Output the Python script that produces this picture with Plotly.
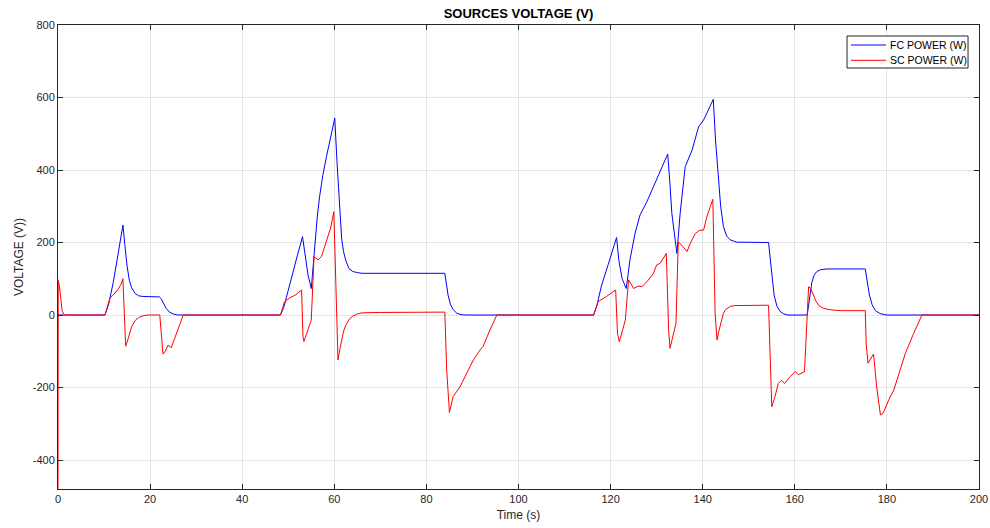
import plotly.graph_objects as go

# FC power (blue) samples
fc_t = [0, 10.2, 11, 12, 13, 14.1, 14.5, 15.0, 15.5, 16, 16.7, 17.5, 18.5, 22,
        22.4, 22.9, 23.5, 24.2, 25, 26,
        48.3, 49, 50, 51, 52, 53.1, 53.6, 54.3, 55.0, 55.4, 55.8, 56.3, 56.8, 57.5, 58.3, 59.2, 60.1,
        60.6, 61.2, 61.6, 62.0, 62.5, 63.2, 64, 65, 66, 84.0, 84.3, 84.7, 85.2, 85.8, 86.6,
        87.5, 88.5,
        116.3, 117, 118, 119.5, 121.3, 121.8, 122.5, 123.4, 124.2, 125.3, 126.4, 127.9,
        129.3, 130.8, 132.4, 132.9, 133.3, 134.4, 135.1, 136.2, 137.7, 139.1, 140.2,
        141.2, 142.3, 142.8, 143.4, 143.9, 144.5, 145.2, 146.0, 147.4, 154.3, 154.6, 155.0,
        155.5, 156.1, 156.8, 157.6, 158.5, 162.7, 163.2, 163.7, 164.2, 164.8, 165.6, 167.0,
        175.3, 175.7, 176.2, 176.8, 177.5, 178.5, 180, 200]
fc_v = [0, 0, 30, 90, 165, 248, 195, 135, 95, 75, 60, 53, 51, 50,
        45, 32, 18, 8, 3, 0,
        0, 20, 70, 120, 165, 216, 170, 110, 73, 140, 207, 270, 326, 385, 437, 490, 543,
        420, 271, 210, 175, 150, 128, 120, 117, 115, 115, 90, 55, 30, 15, 5,
        1, 0,
        0, 25, 80, 140, 214, 150, 100, 73, 152, 225, 276, 313,
        354, 400, 444, 360, 280, 170, 280, 409, 455, 519, 538,
        565, 595, 480, 372, 300, 244, 218, 207, 201, 200, 165, 100,
        55, 25, 10, 3, 0, 0, 45, 90, 110, 120, 125, 127,
        127, 95, 55, 28, 12, 4, 0, 0]

# SC power (red) samples
sc_t = [0, 0.05, 0.3, 0.6, 0.9, 1.2, 1.6, 10.2, 10.8, 11.3, 12, 13, 13.7, 14.1, 14.35, 14.7,
        15.0, 15.5, 16, 16.7, 17.5, 18.5, 19.5, 22.1, 22.5, 22.8, 23.3, 23.9, 24.6, 25.5,
        26.3, 27.2,
        48.3, 49.2, 50.3, 51.5, 52.9, 53.2, 53.4, 54, 54.7, 55.0, 55.6, 56.5, 57.2, 58.3,
        59.2, 59.9, 60.3, 60.8, 61.2, 61.6, 62.0, 62.5, 63.2, 64, 65, 66, 70, 84.0, 84.4,
        85.0, 85.8, 87.3, 88.7, 90.2, 91.6, 92.3, 93.8, 95.3,
        116.3, 117.3, 119.1, 121.1, 121.5, 121.9, 123.2, 123.9, 125.0, 126.0, 126.8,
        127.9, 129.3, 130.0, 130.8, 132.1, 132.6, 132.9, 134.2, 134.7, 135.4, 136.6,
        137.3, 138.4, 139.4, 140.2, 140.9, 142.2, 142.7, 143.1, 143.5, 144, 144.5, 145,
        146, 147, 154.3, 155.0, 155.7, 156.4, 157.1, 157.8, 159.0, 160.1, 160.8, 162.1,
        163.0, 163.5, 164, 164.6, 165.3, 166.3, 168, 170, 175.3, 175.5, 175.9, 177.1,
        177.8, 178.6, 179.2, 180.4, 181.5, 182.6, 184.0, 185.8, 187.6, 200]
sc_v = [-480, 95, 80, 40, 12, 3, 0, 0, 30, 48, 55, 70, 85, 100, 20, -86,
        -75, -50, -32, -16, -7, -2, 0, 0, -60, -108, -100, -83, -90, -60,
        -30, 0,
        0, 37, 47, 55, 69, -60, -73, -50, -22, -14, 161, 152, 161, 207,
        240, 285, 80, -124, -95, -65, -45, -28, -12, -3, 3, 6, 7, 8, -150,
        -269, -225, -198, -161, -124, -97, -87, -41, 0,
        0, 37, 51, 69, -51, -74, -14, 97, 73, 80, 78,
        92, 115, 138, 143, 170, -41, -92, -23, 202, 193, 175,
        198, 225, 234, 234, 271, 319, 5, -69, -45, -15, 5, 15,
        24, 26, 27, -253, -225, -189, -180, -189, -170, -156, -165, -156,
        78, 72, 55, 38, 25, 18, 14, 12, 12, -80, -133, -108,
        -200, -276, -270, -234, -207, -161, -106, -51, 0, 0]

series_names = ["FC POWER (W)", "SC POWER (W)"]
series_colors = ["#0000ff", "#ff0000"]

x_ticks = [0, 20, 40, 60, 80, 100, 120, 140, 160, 180, 200]
y_ticks = [-400, -200, 0, 200, 400, 600, 800]
y_tick_text = ["-400", "-200", "0", "200", "400", "600", "800"]

FONT = "Liberation Sans, Arial, Helvetica, sans-serif"
AX = "#262626"
GRID = "#e3e3e3"

fig = go.Figure()
for t, v, n, c in [(fc_t, fc_v, series_names[0], series_colors[0]),
                   (sc_t, sc_v, series_names[1], series_colors[1])]:
    fig.add_trace(go.Scatter(x=t, y=v, mode="lines", name=n,
                             line=dict(color=c, width=1), showlegend=False))

axis_common = dict(showline=True, linecolor=AX, linewidth=1, mirror="ticks",
                   ticks="inside", ticklen=5, tickcolor=AX, tickwidth=1,
                   showgrid=True, gridcolor=GRID, gridwidth=1, zeroline=False,
                   automargin=False,
                   tickfont=dict(family=FONT, size=11, color=AX))

fig.update_layout(
    width=990, height=528,
    margin=dict(l=58, r=11, t=25, b=39),
    paper_bgcolor="white", plot_bgcolor="white",
    title=dict(text="<b>SOURCES VOLTAGE (V)</b>", x=0.5, xref="paper", xanchor="center",
               y=0.974, yanchor="middle",
               font=dict(family=FONT, size=13, color="#000000")),
    xaxis=dict(range=[0, 200], tickvals=x_ticks,
               title=dict(text="Time (s)", standoff=6,
                          font=dict(family=FONT, size=12, color=AX)),
               **axis_common),
    yaxis=dict(range=[-480, 800], tickvals=y_ticks, ticktext=y_tick_text,
               title=dict(text="VOLTAGE (V))", standoff=6,
                          font=dict(family=FONT, size=12, color=AX)),
               **axis_common),
    showlegend=False,
)

# Manual MATLAB-style legend box (paper coordinates)
lx0, lx1, ly0, ly1 = 0.8567, 0.9881, 0.9073, 0.9763
fig.add_shape(type="rect", xref="paper", yref="paper", x0=lx0, x1=lx1, y0=ly0, y1=ly1,
              line=dict(color=AX, width=1), fillcolor="white", layer="above")
for i, (n, c) in enumerate(zip(series_names, series_colors)):
    yy = 0.9569 - i * 0.033
    fig.add_shape(type="line", xref="paper", yref="paper", x0=0.861, x1=0.899,
                  y0=yy, y1=yy, line=dict(color=c, width=1), layer="above")
    fig.add_annotation(xref="paper", yref="paper", x=0.9012, y=yy, text=n,
                       showarrow=False, xanchor="left", yanchor="middle",
                       font=dict(family=FONT, size=10.5, color="#000000"))

fig.write_html("out.html", config={"displayModeBar": False},
               post_script="document.body.style.margin='0';")
